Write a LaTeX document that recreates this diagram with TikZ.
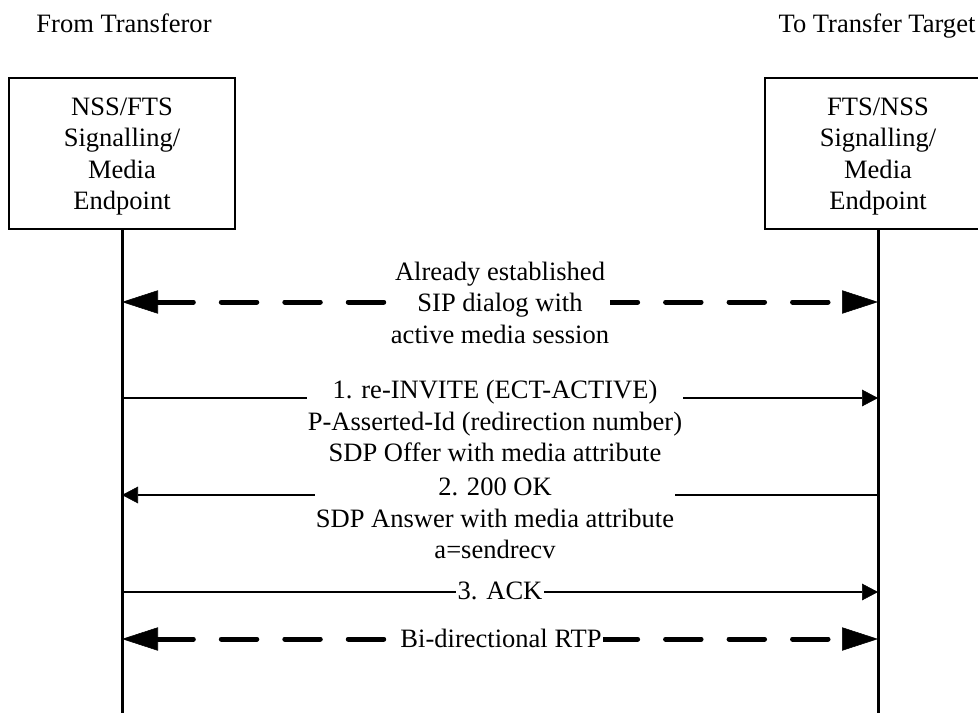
\documentclass[tikz,border=0pt]{standalone}
\usepackage{fontspec}
\setmainfont{Liberation Serif}
\usetikzlibrary{arrows.meta}

\begin{document}
\begin{tikzpicture}[x=0.75pt,y=-0.75pt,
    every node/.style={font=\fontsize{19.9}{23.6}\selectfont},
    endpoint/.style={draw,line width=1.5pt,minimum width=170pt,minimum height=113pt,align=center,text depth=0pt},
    life/.style={line width=2.25pt},
    msg/.style={line width=1.3pt,-{Triangle[length=12pt,width=12.5pt,line width=0.4pt]}},
    media/.style={line width=3.75pt,line cap=round,dash pattern=on 26.6pt off 21pt,
      {Triangle[length=27pt,width=17.5pt,line width=0.4pt]}-{Triangle[length=27pt,width=17.5pt,line width=0.4pt]}},
    lbl/.style={fill=white,inner xsep=1pt,inner ysep=0pt,align=center}]
    \useasboundingbox (0,0) rectangle (978,713);
    \clip (0,0) rectangle (978,713);

    \node[anchor=base] (fromlbl) at (124,33) {From Transferor};
    \node[anchor=base] (tolbl) at (877,33) {To Transfer Target};
    \node[endpoint] (transferor) at (122,153.5) {NSS/FTS\\Signalling/\\Media\\Endpoint};
    \node[endpoint] (target) at (878,153.5) {FTS/NSS\\Signalling/\\Media\\Endpoint};

    \coordinate (fromend) at (122,716);
    \coordinate (toend) at (878,716);
    \draw[life] (transferor) -- (fromend);
    \draw[life] (target) -- (toend);

    \coordinate (from1) at (122,302);
    \coordinate (to1) at (878,302);
    \coordinate (from2) at (122,398);
    \coordinate (to2) at (878,398);
    \coordinate (from3) at (122,495);
    \coordinate (to3) at (878,495);
    \coordinate (from4) at (122,592);
    \coordinate (to4) at (878,592);
    \coordinate (from5) at (122,639);
    \coordinate (to5) at (878,639);

    \draw[media] (from1) -- (to1);
    \draw[msg] (from2) -- (to2);
    \draw[msg] (to3) -- (from3);
    \draw[msg] (from4) -- (to4);
    \draw[media] (from5) -- (to5);

    \node[lbl] (dialog) at (500,302.5) {Already established\\SIP dialog with\\active media session};
    \node[lbl] (invite) at (495,421) {1. re-INVITE (ECT-ACTIVE)\\P-Asserted-Id (redirection number)\\SDP Offer with media attribute};
    \node[lbl] (ok) at (495,518.5) {2. 200 OK\\SDP Answer with media attribute\\a=sendrecv};
    \node[lbl] (ack) at (500,591) {3. ACK};
    \node[lbl] (rtp) at (501,638) {Bi-directional RTP};
  \end{tikzpicture}
\end{document}
